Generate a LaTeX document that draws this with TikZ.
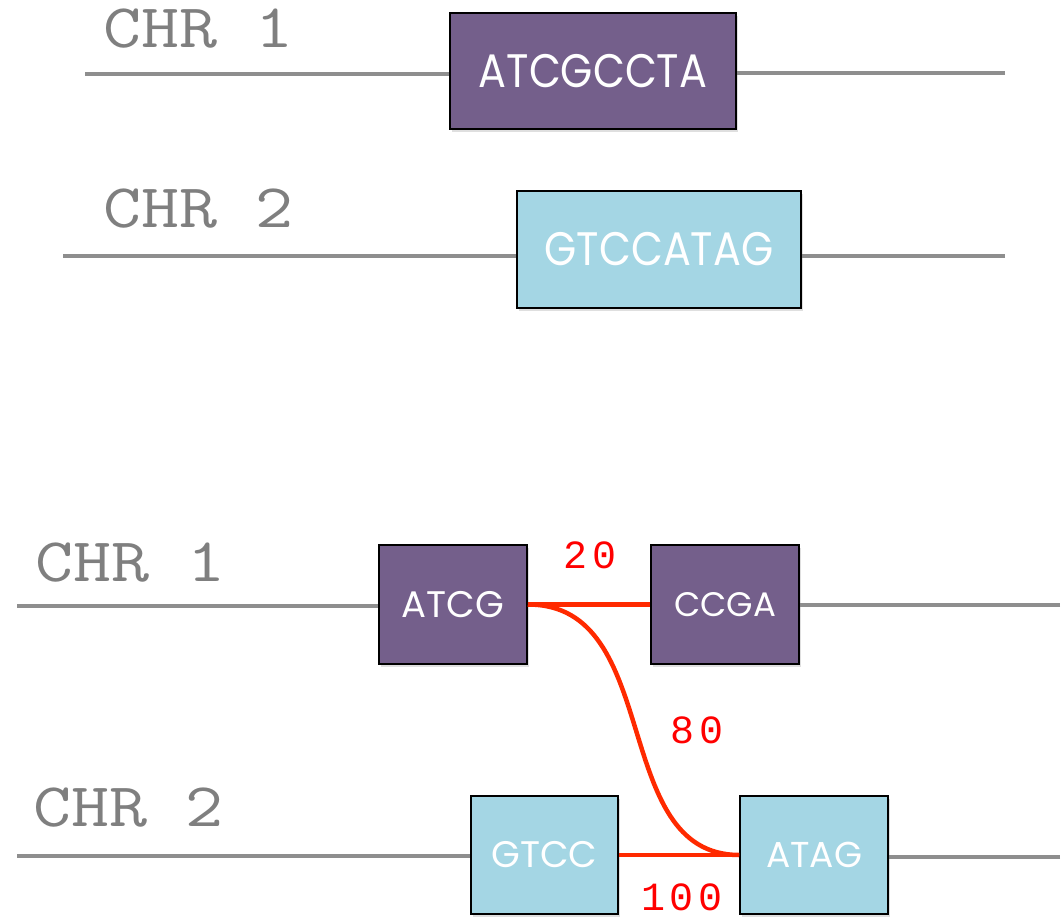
\documentclass[tikz,border=0pt]{standalone}
\usepackage{fontspec}
\usepackage{graphicx}
\setmainfont{Poppins}
\newfontfamily\monosp[LetterSpace=12]{Liberation Mono}
\usetikzlibrary{shadows}
\definecolor{purp}{HTML}{745F8B}
\definecolor{lblue}{HTML}{A4D6E4}
\definecolor{chrgrey}{HTML}{7F7F7F}
\definecolor{linegrey}{HTML}{8E8E8E}
\definecolor{redl}{HTML}{FF2A00}
\newcommand{\chrtext}[1]{\scalebox{1.19}[1]{#1}}
\newcommand{\genetext}[1]{\scalebox{0.88}[1]{#1}}
\tikzset{
  gene/.style={draw=black, line width=1.5pt, inner sep=0pt, text=white,
    drop shadow={shadow xshift=2pt, shadow yshift=-3pt, opacity=0.25}},
  pgene/.style={gene, fill=purp},
  bgene/.style={gene, fill=lblue},
  chrom/.style={draw=linegrey, line width=4.5pt},
  chrlab/.style={text=chrgrey, font=\ttfamily\fontsize{62}{62}\selectfont, anchor=base west, inner sep=0pt},
  link/.style={draw=redl, line width=4.5pt},
  dist/.style={text=red, font=\monosp\fontsize{40}{40}\selectfont, inner sep=0pt},
}
\begin{document}
\begin{tikzpicture}[x=1pt,y=-1pt]
\useasboundingbox (0,0) rectangle (1064,917);
% top section
\node[chrlab] (t1) at (103,48) {\chrtext{CHR 1}};
\node[chrlab] (t2) at (103,227) {\chrtext{CHR 2}};
\coordinate (a1) at (85,74);
\coordinate (a2) at (1005,73);
\coordinate (a3) at (63,256);
\coordinate (a4) at (1005,256);
\draw[chrom] (a1) -- (a1 -| 450,0);
\draw[chrom] (a2) -- (a2 -| 736,0);
\draw[chrom] (a3) -- (a3 -| 517,0);
\draw[chrom] (a4) -- (a4 -| 801,0);
\node[pgene, minimum width=286pt, minimum height=116pt, font=\fontsize{47}{47}\selectfont] (b1) at (593,71) {\genetext{ATCGCCTA}};
\node[bgene, minimum width=284pt, minimum height=117pt, font=\fontsize{47}{47}\selectfont] (b2) at (659,249.5) {\genetext{GTCCATAG}};
% bottom section
\node[chrlab] (u1) at (35,581) {\chrtext{CHR 1}};
\node[chrlab] (u2) at (33,826) {\chrtext{CHR 2}};
\coordinate (d1) at (17,606);
\coordinate (d2) at (1060,605);
\coordinate (d3) at (17,856);
\coordinate (d4) at (1060,857);
\draw[chrom] (d1) -- (d1 -| 379,0);
\draw[chrom] (d2) -- (d2 -| 799,0);
\draw[chrom] (d3) -- (d3 -| 471,0);
\draw[chrom] (d4) -- (d4 -| 888,0);
\node[pgene, minimum width=148pt, minimum height=119pt, font=\fontsize{37}{37}\selectfont] (c1) at (453,604.5) {ATCG};
\node[pgene, minimum width=148pt, minimum height=119pt, font=\fontsize{34}{34}\selectfont] (c2) at (725,604.5) {CCGA};
\node[bgene, minimum width=147pt, minimum height=118pt, font=\fontsize{37}{37}\selectfont] (c3) at (544.5,855) {GTCC};
\node[bgene, minimum width=148pt, minimum height=118pt, font=\fontsize{36}{36}\selectfont] (c4) at (814,855) {ATAG};
\draw[link] (c1.east) -- (c2.west);
\draw[link] (c3.east) -- (c4.west);
\draw[link] (c1.east) .. controls (665,604) and (608,855) .. (c4.west);
\node[dist] (n20) at (590,555) {20};
\node[dist] (n80) at (697,730) {80};
\node[dist] (n100) at (682,897) {100};
\end{tikzpicture}
\end{document}
